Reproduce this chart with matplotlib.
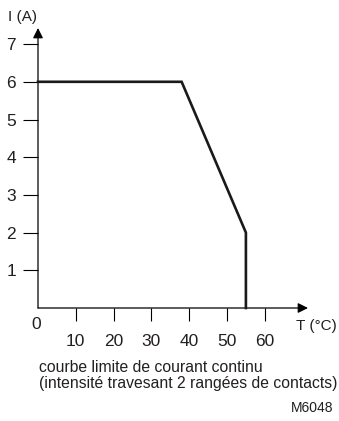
import matplotlib
matplotlib.use("Agg")
import matplotlib.pyplot as plt

# Continuous-current derating curve
temp_c = [0, 38, 55, 55]
current_a = [6, 6, 2, 0]
x_ticks = [10, 20, 30, 40, 50, 60]
y_ticks = [1, 2, 3, 4, 5, 6, 7]

plt.rcParams['font.family'] = ['Liberation Sans Narrow', 'Liberation Sans', 'DejaVu Sans']
txt = '#231f20'

W, H = 339, 421
fig = plt.figure(figsize=(W / 100, H / 100), dpi=100)

# axes box in pixel terms: origin at (38, 308), x to 308, y up to 28
x0, y0, x1, y1 = 38, 308, 308, 28
ax = fig.add_axes([x0 / W, (H - y0) / H, (x1 - x0) / W, (y0 - y1) / H])
px_per_x = 37.8 / 10
px_per_y = 37.7
ax.set_xlim(0, (x1 - x0) / px_per_x)
ax.set_ylim(0, (y0 - y1) / px_per_y)
ax.patch.set_alpha(0)
for s in ax.spines.values():
    s.set_visible(False)

# axis lines with arrow heads
ax.annotate('', xy=(0, ax.get_ylim()[1]), xytext=(0, 0), xycoords='data',
            arrowprops=dict(arrowstyle='-|>,head_length=0.6,head_width=0.3',
                            lw=0.9, color='black', shrinkA=0, shrinkB=0),
            annotation_clip=False)
ax.annotate('', xy=(ax.get_xlim()[1], 0), xytext=(0, 0), xycoords='data',
            arrowprops=dict(arrowstyle='-|>,head_length=0.6,head_width=0.3',
                            lw=0.9, color='black', shrinkA=0, shrinkB=0),
            annotation_clip=False)

ax.plot(temp_c, current_a, color='#1a1a1a', lw=1.9, solid_joinstyle='miter',
        clip_on=False, zorder=3)

ax.set_xticks(x_ticks)
ax.set_xticklabels([str(v) for v in x_ticks])
ax.set_yticks(y_ticks)
ax.set_yticklabels([str(v) for v in y_ticks])
ax.tick_params(axis='x', direction='out', length=9.5, width=0.8, pad=9,
               labelsize=12.5, labelcolor=txt, color='black')
ax.tick_params(axis='y', direction='out', length=10.8, width=0.8, pad=5,
               labelsize=12.5, labelcolor=txt, color='black')

ax.text(-0.5, -0.25, '0', ha='center', va='top', fontsize=12.5, color=txt)

fig.text(8 / W, 1 - 17 / H, 'I (A)', ha='left', va='center', fontsize=11, color=txt)
fig.text(296 / W, 1 - 326 / H, 'T (°C)', ha='left', va='center', fontsize=11, color=txt)

fig.text(39 / W, 1 - 372 / H, 'courbe limite de courant continu',
         ha='left', va='baseline', fontsize=11.3, color=txt)
fig.text(39 / W, 1 - 388 / H, '(intensité travesant 2 rangées de contacts)',
         ha='left', va='baseline', fontsize=11.3, color=txt)
fig.text(333 / W, 1 - 412 / H, 'M6048', ha='right', va='baseline',
         fontsize=10, color=txt)

fig.savefig('out.png', dpi=100)
